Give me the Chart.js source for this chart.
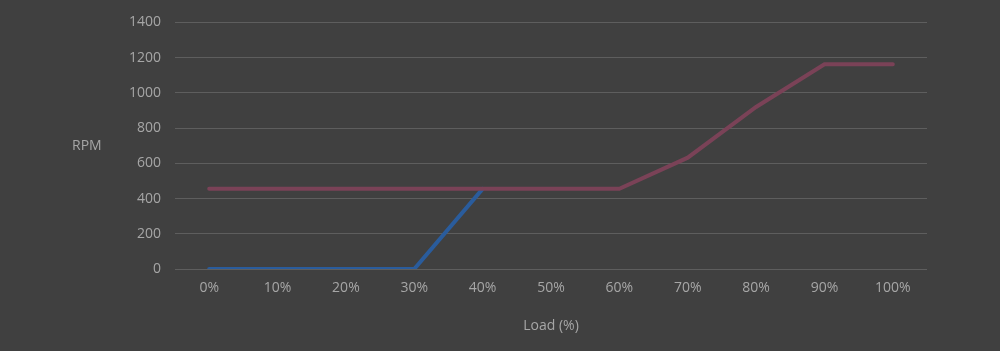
<!DOCTYPE html>
<html><head><meta charset="utf-8">
<script src="https://cdn.jsdelivr.net/npm/chart.js@4/dist/chart.umd.min.js"></script>
<style>
html,body{margin:0;padding:0;background:#404040;}
#wrap{position:relative;width:1000px;height:351px;}
#ytitle{position:absolute;left:72px;top:135px;font:14px "Open Sans",sans-serif;color:#a6a6a6;}
</style></head>
<body><div id="wrap"><canvas id="c" width="1000" height="351"></canvas><div id="ytitle">RPM</div></div>
<script>
const categories = ["0%","10%","20%","30%","40%","50%","60%","70%","80%","90%","100%"];
const redSeries = [455,455,455,455,455,455,455,632,920,1162,1162];
const blueSeries = [0,0,0,0,455,null,null,null,null,null,null];
const yTicks = [0,200,400,600,800,1000,1200,1400];

new Chart(document.getElementById('c'), {
  type: 'line',
  data: {
    labels: categories,
    datasets: [
      {data: redSeries, borderColor: '#7a4257', borderWidth: 4, pointRadius: 0, tension: 0, borderCapStyle:'round'},
      {data: blueSeries, borderColor: '#2a5c9c', borderWidth: 4, pointRadius: 0, tension: 0, borderCapStyle:'round'}
    ]
  },
  options: {
    responsive: false, animation: false,
    layout: {padding: {left: 0, right: 73, top: 12, bottom: 13}},
    plugins: {legend: {display: false}, tooltip: {enabled: false}},
    scales: {
      x: {
        offset: true,
        grid: {display: false, drawTicks: false, offset: true},
        border: {display: false},
        ticks: {color: '#a6a6a6', font: {family: 'Open Sans', size: 14}, padding: 11},
        title: {display: true, text: 'Load (%)', color: '#a6a6a6', font: {family: 'Open Sans', size: 14}, padding: {top: 10}},
        afterFit: s => { s.height = 69; }
      },
      y: {
        min: 0, max: 1400,
        afterBuildTicks: s => { s.ticks = yTicks.map(v => ({value: v})); },
        grid: {color: '#5e5e5e', lineWidth: 1, drawTicks: false},
        border: {display: false},
        ticks: {color: '#a6a6a6', font: {family: 'Open Sans', size: 14}, padding: 14, callback: v => String(v)},
        afterFit: s => { s.width = 175; }
      }
    }
  }
});
</script></body></html>
